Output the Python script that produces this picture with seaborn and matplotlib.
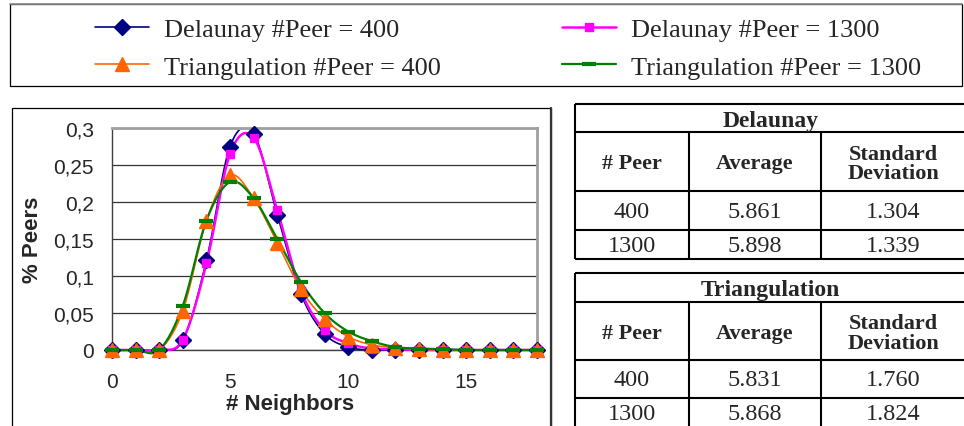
import numpy as np
import matplotlib
matplotlib.use("Agg")
import matplotlib.pyplot as plt
import seaborn as sns
from matplotlib.lines import Line2D
from matplotlib.patches import Rectangle
from matplotlib.ticker import FuncFormatter

# ---- data ----
neighbors = list(range(19))
delaunay_400 = [0, 0, 0, 0.013, 0.121, 0.275, 0.292, 0.183, 0.076, 0.022, 0.004, 0.0,
                0, 0, 0, 0, 0, 0, 0]
delaunay_1300 = [0, 0, 0, 0.014, 0.117, 0.265, 0.287, 0.189, 0.080, 0.027, 0.009, 0.002,
                 0.001, 0, 0, 0, 0, 0, 0]
triang_400 = [0, 0, 0, 0.053, 0.175, 0.236, 0.205, 0.145, 0.082, 0.042, 0.018, 0.007,
              0.003, 0.001, 0, 0, 0, 0, 0]
triang_1300 = [0, 0, 0, 0.060, 0.175, 0.227, 0.205, 0.150, 0.092, 0.050, 0.025, 0.012,
               0.004, 0.002, 0.001, 0, 0, 0, 0]

series_labels = ["Delaunay #Peer = 400", "Triangulation #Peer = 400",
                 "Delaunay #Peer = 1300", "Triangulation #Peer = 1300"]

table_cols = ["# Peer", "Average", "Standard\nDeviation"]
delaunay_rows = [["400", "5.861", "1.304"], ["1300", "5.898", "1.339"]]
triang_rows = [["400", "5.831", "1.760"], ["1300", "5.868", "1.824"]]

W, H = 964, 427
sns.set_style("white")
plt.rcParams['font.family'] = ['Liberation Sans', 'DejaVu Sans']
SERIF = ['Liberation Serif', 'DejaVu Serif']


def smooth(x, y, n=16):
    # Excel style smoothed line (bezier through the points)
    x = np.asarray(x, float)
    y = np.asarray(y, float)
    xs, ys = [], []
    t = np.linspace(0, 1, n)
    for i in range(len(x) - 1):
        a = max(i - 1, 0)
        b = min(i + 2, len(x) - 1)
        p0 = np.array([x[i], y[i]])
        p3 = np.array([x[i + 1], y[i + 1]])
        p1 = p0 + (np.array([x[i + 1], y[i + 1]]) - np.array([x[a], y[a]])) / 6
        p2 = p3 - (np.array([x[b], y[b]]) - np.array([x[i], y[i]])) / 6
        pts = ((1 - t) ** 3)[:, None] * p0 + (3 * (1 - t) ** 2 * t)[:, None] * p1 \
            + (3 * (1 - t) * t ** 2)[:, None] * p2 + (t ** 3)[:, None] * p3
        xs.extend(pts[:, 0])
        ys.extend(pts[:, 1])
    return np.array(xs), np.array(ys)


fig = plt.figure(figsize=(W / 100, H / 100), dpi=100)

def px(x0, y0, x1, y1):
    return [x0 / W, 1 - y1 / H, (x1 - x0) / W, (y1 - y0) / H]

# legend box and chart frame
fig.patches.append(Rectangle((10 / W, 1 - 87 / H), 952 / W, 82 / H, transform=fig.transFigure,
                             fill=False, ec='black', lw=0.9))
fig.add_artist(Line2D([10 / W, 962 / W], [1 - 5 / H] * 2, color='#8c8c8c', lw=1.2))
fig.patches.append(Rectangle((12 / W, -0.1), 539 / W, 1 - 109 / H + 0.1, transform=fig.transFigure,
                             fill=False, ec='black', lw=0.9))
fig.add_artist(Line2D([551 / W] * 2, [0, 1 - 109 / H], color='#333333', lw=1.6))

ax = fig.add_axes(px(112, 129, 537, 351))

styles = [
    (delaunay_400, '#000080', 'D', 8.0, 1.2, 1.0),
    (delaunay_1300, '#ff00ff', 's', 6.0, 1.8, 1.0),
    (triang_400, '#ff6600', '^', 9.5, 1.2, 1.0),
    (triang_1300, '#008000', '_', 10.5, 1.6, 3.0),
]
handles = {}
for k, (vals, col, mk, ms, lw, mew) in enumerate(styles):
    sx, sy = smooth(neighbors, vals)
    sns.lineplot(x=sx, y=sy, sort=False, estimator=None, ax=ax, color=col, lw=lw,
                 zorder=3 + k)
    ax.lines[-1].set_clip_path(Rectangle((-0.05, -0.1), 1.1, 1.092, transform=ax.transAxes))
    ax.plot(neighbors, vals, ls='none', marker=mk, ms=ms, color=col, mec=col, mew=mew,
            zorder=10 + k, clip_on=False)
    handles[k] = Line2D([], [], color=col, lw=lw, marker=mk, ms=ms, mec=col, mew=mew)

ax.set_xlim(0, 18)
ax.set_ylim(0, 0.3)
ax.set_xticks([0, 5, 10, 15])
ax.set_yticks(np.arange(0, 0.301, 0.05))
ax.yaxis.set_major_formatter(FuncFormatter(lambda v, p: f"{v:.2f}".rstrip('0').rstrip('.').replace('.', ',')))
ax.yaxis.grid(True, color='#333333', lw=0.9)
ax.set_axisbelow(True)
for s in ['top', 'right']:
    ax.spines[s].set_color('#a0a0a0')
    ax.spines[s].set_linewidth(2.0)
for s in ['left', 'bottom']:
    ax.spines[s].set_color('#404040')
    ax.spines[s].set_linewidth(1.0)
ax.tick_params(axis='y', direction='out', length=5, width=1, color='#404040', pad=8, labelsize=15)
ax.tick_params(axis='x', direction='out', length=5, width=1, color='#404040', pad=11, labelsize=15)
ax.set_xlabel("")
ax.set_ylabel("")
fig.text(33 / W, 1 - 240 / H, "% Peers", rotation=90, ha='center', va='center',
         fontsize=16, fontweight='bold')
fig.text(290 / W, 1 - 405 / H, "# Neighbors", ha='center', va='center',
         fontsize=16, fontweight='bold')

# legend
fig.legend([handles[0], handles[2], handles[1], handles[3]],
           series_labels, ncol=2, loc='center left', bbox_to_anchor=(95 / W, 1 - 49 / H),
           frameon=False, prop={'family': SERIF, 'size': 19}, handlelength=2.05,
           handletextpad=0.56, columnspacing=4.6, labelspacing=0.55, borderpad=0,
           borderaxespad=0)

# tables
tax = fig.add_axes(px(560, 95, 964, 427))
tax.set_xlim(560, 964)
tax.set_ylim(427, 95)
tax.axis('off')
L, C1, C2, R = 575, 689, 821, 966
col_x = [632, 755, 893]
lw_t = 1.5


def draw_table(top, rows_y, title, rows):
    y_title, y_head, y_r1, y_bot = rows_y
    for yy in [top, y_title, y_head, y_r1, y_bot]:
        tax.hlines(yy, L, R, color='black', lw=lw_t)
    tax.vlines([L, R], top, y_bot, color='black', lw=lw_t)
    tax.vlines([C1, C2], y_title, y_bot, color='black', lw=lw_t)
    tax.text((L + R) / 2, (top + y_title) / 2 + 2, title, ha='center', va='center',
             family=SERIF, fontsize=17, fontweight='bold')
    for cx, lab in zip(col_x, table_cols):
        tax.text(cx, (y_title + y_head) / 2 + 2, lab, ha='center', va='center', family=SERIF,
                 fontsize=16, fontweight='bold', linespacing=0.95)
    for (y0, y1), row in zip([(y_head, y_r1), (y_r1, y_bot)], rows):
        for cx, v in zip(col_x, row):
            tax.text(cx, (y0 + y1) / 2 + 1, v, ha='center', va='center', family=SERIF,
                     fontsize=17.5)


draw_table(105, (133, 192, 231, 260), "Delaunay", delaunay_rows)
draw_table(274, (303, 361, 399, 429), "Triangulation", triang_rows)

fig.savefig("out.png", dpi=100)
